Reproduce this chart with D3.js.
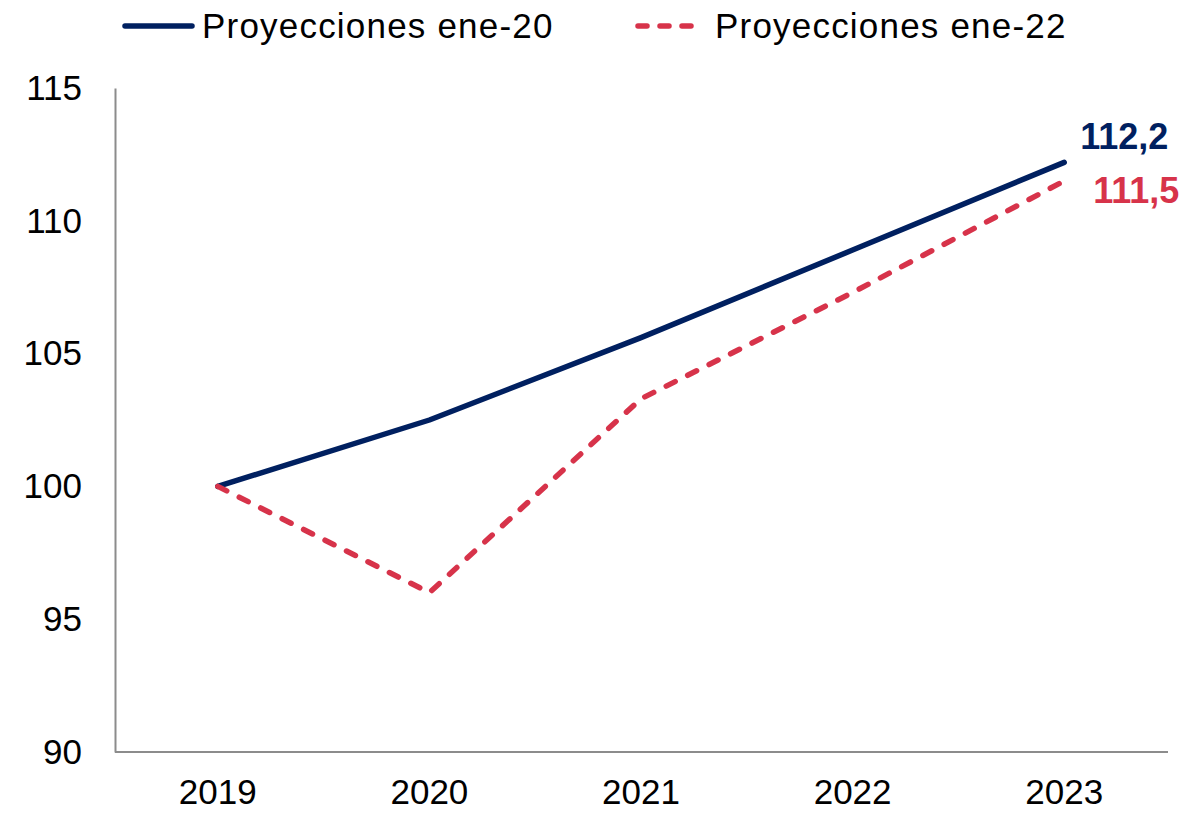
<!DOCTYPE html>
<html>
<head>
<meta charset="utf-8">
<script src="https://cdn.jsdelivr.net/npm/d3@7"></script>
<style>
  html, body { margin: 0; padding: 0; background: #fff; }
  svg { display: block; font-family: "Liberation Sans", Arial, sans-serif; }
</style>
</head>
<body>
<svg id="chart" width="1201" height="814"></svg>
<script>
// Index values (2019 = 100)
const years = ["2019", "2020", "2021", "2022", "2023"];
const proyEne20 = [100, 102.5, 105.6, 108.9, 112.2];
const proyEne22 = [100, 96.0, 103.3, 107.3, 111.5];
const seriesNames = ["Proyecciones ene-20", "Proyecciones ene-22"];
const yTicks = [90, 95, 100, 105, 110, 115];
const endLabels = ["112,2", "111,5"];

const colors = ["#002060", "#D7334A"];

const svg = d3.select("#chart");

const x = d3.scaleBand().domain(years).range([112, 1170]).padding(0);
const y = d3.scaleLinear().domain([90, 115]).range([752, 88]);
const cx = d => x(d) + x.bandwidth() / 2;

// Axes
const axisColor = "#8c8c8c";
const yAxis = svg.append("g")
  .attr("transform", "translate(115,0)")
  .call(d3.axisLeft(y).tickValues(yTicks).tickSize(0).tickPadding(33).tickFormat(d3.format("d")));
yAxis.select(".domain").attr("stroke", axisColor).attr("stroke-width", 2);
yAxis.selectAll("text").attr("font-size", 35).attr("fill", "#000")
  .attr("font-family", "Liberation Sans, Arial, sans-serif");

const xAxis = svg.append("g")
  .attr("transform", "translate(0,752)")
  .call(d3.axisBottom(x).tickSize(0).tickPadding(27));
xAxis.select(".domain").attr("d", "M115,0H1168").attr("stroke", axisColor).attr("stroke-width", 2);
xAxis.selectAll("text").attr("font-size", 35).attr("fill", "#000")
  .attr("font-family", "Liberation Sans, Arial, sans-serif");

// Lines
const line = d3.line()
  .x((d, i) => cx(years[i]))
  .y(d => y(d));

svg.append("path")
  .datum(proyEne20)
  .attr("d", line)
  .attr("fill", "none")
  .attr("stroke", colors[0])
  .attr("stroke-width", 5.5)
  .attr("stroke-linejoin", "round")
  .attr("stroke-linecap", "round");

svg.append("path")
  .datum(proyEne22)
  .attr("d", line)
  .attr("fill", "none")
  .attr("stroke", colors[1])
  .attr("stroke-width", 5.5)
  .attr("stroke-linejoin", "round")
  .attr("stroke-linecap", "round")
  .attr("stroke-dasharray", "10,14");

// End-point value labels
const last = years.length - 1;
svg.append("text")
  .attr("x", cx(years[last]) + 60)
  .attr("y", y(proyEne20[last]) - 13)
  .attr("text-anchor", "middle")
  .attr("font-size", 36)
  .attr("font-weight", "bold")
  .attr("fill", colors[0])
  .text(endLabels[0]);

svg.append("text")
  .attr("x", cx(years[last]) + 72)
  .attr("y", y(proyEne22[last]) + 22)
  .attr("text-anchor", "middle")
  .attr("font-size", 36)
  .attr("font-weight", "bold")
  .attr("fill", colors[1])
  .text(endLabels[1]);

// Legend
const legend = svg.append("g");
const legendItems = [
  { x1: 125, x2: 192, tx: 202, dash: null },
  { x1: 638, x2: 698, tx: 715, dash: "10,14" }
];
legendItems.forEach((it, i) => {
  const ln = legend.append("line")
    .attr("x1", it.x1).attr("x2", it.x2)
    .attr("y1", 26).attr("y2", 26)
    .attr("stroke", colors[i])
    .attr("stroke-width", 5.5)
    .attr("stroke-linecap", "round");
  if (it.dash) ln.attr("stroke-dasharray", "9,13");
  legend.append("text")
    .attr("x", it.tx)
    .attr("y", 38)
    .attr("font-size", 35)
    .attr("letter-spacing", 1.2)
    .attr("fill", "#000")
    .text(seriesNames[i]);
});
</script>
</body>
</html>
